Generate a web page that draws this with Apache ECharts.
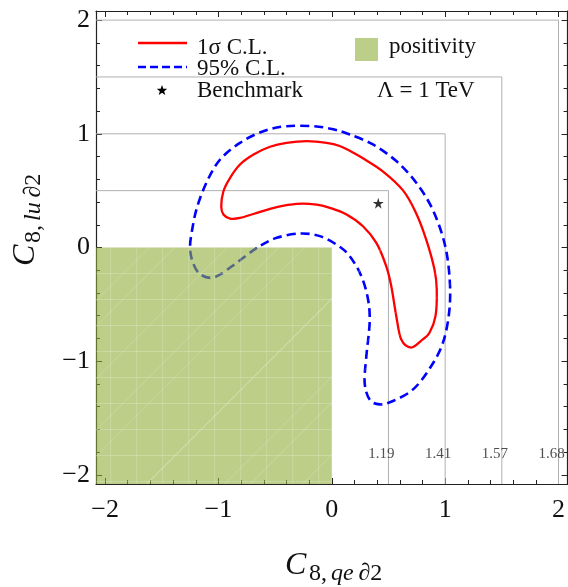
<!DOCTYPE html>
<html>
<head>
<meta charset="utf-8">
<script src="https://cdn.jsdelivr.net/npm/echarts@6/dist/echarts.min.js"></script>
<style>html,body{margin:0;padding:0;background:#fff}#c{width:568px;height:587px}</style>
</head>
<body>
<div id="c"></div>
<script>
// ---- data ----
const majorTicks = [-2, -1, 0, 1, 2];
const minorTicks = [-2, -1.8, -1.6, -1.4, -1.2, -1, -0.8, -0.6, -0.4, -0.2, 0, 0.2, 0.4, 0.6, 0.8, 1, 1.2, 1.4, 1.6, 1.8, 2];
const oneSigma = [[0.70,-0.88],[0.613,-0.81],[0.569,-0.604],[0.525,-0.34],[0.48,-0.164],[0.393,0.04],[0.275,0.187],[0.13,0.29],[-0.018,0.349],[-0.135,0.378],[-0.31,0.384],[-0.486,0.355],[-0.66,0.305],[-0.81,0.26],[-0.897,0.255],[-0.956,0.29],[-0.975,0.36],[-0.956,0.495],[-0.897,0.613],[-0.81,0.73],[-0.69,0.818],[-0.545,0.886],[-0.40,0.92],[-0.22,0.935],[-0.047,0.92],[0.07,0.893],[0.17,0.845],[0.275,0.785],[0.45,0.67],[0.63,0.50],[0.74,0.31],[0.833,0.07],[0.906,-0.193],[0.926,-0.37],[0.915,-0.604],[0.862,-0.75],[0.80,-0.81]];
const cl95 = [[-0.66,-0.003],[-0.84,-0.135],[-0.985,-0.237],[-1.073,-0.267],[-1.176,-0.223],[-1.234,-0.105],[-1.25,0.01],[-1.234,0.143],[-1.19,0.349],[-1.10,0.583],[-0.985,0.774],[-0.81,0.92],[-0.604,1.023],[-0.40,1.067],[-0.164,1.067],[0.012,1.04],[0.158,0.994],[0.363,0.906],[0.569,0.76],[0.745,0.57],[0.89,0.334],[0.994,0.04],[1.038,-0.25],[1.038,-0.545],[0.98,-0.84],[0.86,-1.07],[0.715,-1.25],[0.54,-1.35],[0.422,-1.38],[0.334,-1.337],[0.29,-1.19],[0.305,-0.956],[0.334,-0.66],[0.32,-0.457],[0.26,-0.25],[0.158,-0.076],[0.05,0.02],[-0.106,0.10],[-0.28,0.123],[-0.486,0.085]];
const benchmark = [[0.41, 0.39]];
const levels = [0.5, 1, 1.5, 2];
const levelLabels = ['1.19', '1.41', '1.57', '1.68'];
const levelLabelY = -1.82;
const positivity = [[-2.3, 0, 0, -2.3]]; // x0, y0, x1, y1

// ---- layout ----
const xMin = -2.08, xMax = 2.08, yMin = -2.08, yMax = 2.08;
const FONT = 'Liberation Serif';
const axisCol = '#222';
const minus = v => String(v).replace('-', '\u2212');

function mkX(pos, major, labels) {
  return {
    type: 'value', position: pos, min: xMin, max: xMax, gridIndex: 0,
    axisLine: { show: major, onZero: false, lineStyle: { color: axisCol, width: 1.2 } },
    axisTick: { show: true, inside: true, length: major ? 6 : 4, customValues: major ? majorTicks : minorTicks, lineStyle: { color: axisCol, width: 1 } },
    axisLabel: { show: labels, customValues: majorTicks, formatter: minus, fontFamily: FONT, fontSize: 26, color: '#111', margin: 13 },
    splitLine: { show: false }
  };
}
function mkY(pos, major, labels) {
  return {
    type: 'value', position: pos, min: yMin, max: yMax, gridIndex: 0,
    axisLine: { show: major, onZero: false, lineStyle: { color: axisCol, width: 1.2 } },
    axisTick: { show: true, inside: true, length: major ? 6 : 4, customValues: major ? majorTicks : minorTicks, lineStyle: { color: axisCol, width: 1 } },
    axisLabel: { show: labels, customValues: majorTicks, formatter: minus, fontFamily: FONT, fontSize: 26, color: '#111', margin: 6 },
    splitLine: { show: false }
  };
}

// closed smooth contour drawn through the data points (mapped by the axes)
function contourSeries(points, style, z) {
  return {
    type: 'custom', xAxisIndex: 0, yAxisIndex: 0, z: z, clip: true, silent: true,
    data: points, encode: { x: 0, y: 1 },
    renderItem: function (params, api) {
      if (params.dataIndex !== 0) return null;
      const P = points.map(p => api.coord(p));
      const n = P.length;
      let d = 'M' + P[0][0] + ',' + P[0][1];
      for (let i = 0; i < n; i++) {
        const p0 = P[(i - 1 + n) % n], p1 = P[i], p2 = P[(i + 1) % n], p3 = P[(i + 2) % n];
        const c1 = [p1[0] + (p2[0] - p0[0]) / 6, p1[1] + (p2[1] - p0[1]) / 6];
        const c2 = [p2[0] - (p3[0] - p1[0]) / 6, p2[1] - (p3[1] - p1[1]) / 6];
        d += 'C' + c1[0] + ',' + c1[1] + ' ' + c2[0] + ',' + c2[1] + ' ' + p2[0] + ',' + p2[1];
      }
      d += 'Z';
      return { type: 'path', shape: { pathData: d }, style: Object.assign({ fill: 'none' }, style) };
    }
  };
}

const series = [];
levels.forEach((L, i) => {
  series.push({
    type: 'line', xAxisIndex: 0, yAxisIndex: 0, symbol: 'none', silent: true, z: 1,
    data: [[xMin, L], [L, L], [L, yMin]],
    lineStyle: { color: '#b0b0b0', width: 1 }
  });
});
series.push({
  type: 'scatter', xAxisIndex: 0, yAxisIndex: 0, symbolSize: 0, z: 4, silent: true,
  data: levels.map((L, i) => ({ value: [L, levelLabelY], label: { formatter: levelLabels[i] } })),
  label: { show: true, position: 'inside', offset: [-7, 0], fontFamily: FONT, fontSize: 15, color: '#222' }
});
series.push(contourSeries(cl95, { stroke: '#0000ff', lineWidth: 2.6, lineDash: [9, 5] }, 2));
series.push(contourSeries(oneSigma, { stroke: '#ff0000', lineWidth: 2.3, lineJoin: 'round' }, 3));
series.push({
  type: 'custom', xAxisIndex: 0, yAxisIndex: 0, z: 5, clip: true, silent: true,
  data: positivity,
  renderItem: function (params, api) {
    const a = api.coord([api.value(0), api.value(1)]);
    const b = api.coord([api.value(2), api.value(3)]);
    const x0 = Math.min(a[0], b[0]), y0 = Math.min(a[1], b[1]);
    const w = Math.abs(b[0] - a[0]), h = Math.abs(b[1] - a[1]);
    const children = [{ type: 'rect', shape: { x: x0, y: y0, width: w, height: h }, style: { fill: 'rgba(143,174,55,0.6)' } }];
    // faint mesh texture
    const mesh = { stroke: 'rgba(255,255,255,0.22)', lineWidth: 1, fill: null };
    const step = 26;
    const x1 = x0 + w, y1 = y0 + h;
    for (let x = x1 - step * 0.5; x > x0; x -= step) children.push({ type: 'line', shape: { x1: x, y1: y0, x2: x, y2: y1 }, style: mesh });
    for (let y = y0 + step; y < y1; y += step) children.push({ type: 'line', shape: { x1: x0, y1: y, x2: x1, y2: y }, style: mesh });
    for (let k = -h; k < w; k += step * 3) children.push({ type: 'line', shape: { x1: x0 + k, y1: y1, x2: x0 + k + h, y2: y0 }, style: mesh });
    for (let k = 0; k < w + h; k += step * 4) children.push({ type: 'line', shape: { x1: x0 + k, y1: y0, x2: x0 + k - h, y2: y1 }, style: mesh });
    return { type: 'group', children: children };
  }
});
series.push({
  type: 'scatter', xAxisIndex: 0, yAxisIndex: 0, z: 6,
  symbol: 'path://M50,0 L61,35 L98,35 L68,57 L79,91 L50,70 L21,91 L32,57 L2,35 L39,35 Z',
  symbolSize: 11, itemStyle: { color: '#000' }, data: benchmark
});

function starPts(cx, cy, r) {
  const pts = [];
  for (let k = 0; k < 10; k++) {
    const rr = k % 2 === 0 ? r : r * 0.42;
    const a = -Math.PI / 2 + k * Math.PI / 5;
    pts.push([cx + rr * Math.cos(a), cy + rr * Math.sin(a)]);
  }
  return pts;
}

const txt = (x, y, text, size, extra) => ({
  type: 'text', x: x, y: y, silent: true,
  style: Object.assign({ text: text, fontFamily: FONT, fontSize: size, fill: '#111', align: 'left', verticalAlign: 'middle' }, extra || {})
});

const graphic = [
  { type: 'line', shape: { x1: 138, y1: 43, x2: 187, y2: 43 }, style: { stroke: '#ff0000', lineWidth: 2.3 } },
  { type: 'line', shape: { x1: 138, y1: 67, x2: 187, y2: 67 }, style: { stroke: '#0000ff', lineWidth: 2.6, lineDash: [8, 4] } },
  { type: 'polygon', shape: { points: starPts(162, 90.5, 5.5) }, style: { fill: '#000' } },
  { type: 'rect', shape: { x: 355, y: 38, width: 23, height: 23 }, style: { fill: '#bccf88' } },
  txt(197, 47.5, '1\u03c3 C.L.', 23),
  txt(197, 68.5, '95% C.L.', 23),
  txt(197, 90.5, 'Benchmark', 23),
  txt(389, 47, 'positivity', 23),
  txt(377, 90.5, '\u039b = 1 TeV', 23),
  // x title
  txt(285, 566, 'C', 32, { fontStyle: 'italic' }),
  { type: 'text', x: 309, y: 574, silent: true,
    style: { text: '{n|8,}{i|qe}{n|\u2009\u22022}', fontFamily: FONT, fontSize: 24, fill: '#111', align: 'left', verticalAlign: 'middle',
      rich: { n: { fontFamily: FONT, fontSize: 24 }, i: { fontFamily: FONT, fontSize: 24, fontStyle: 'italic', padding: [0, 0, 0, 4] } } } },
  // y title
  Object.assign(txt(26, 266, 'C', 32, { fontStyle: 'italic' }), { rotation: Math.PI / 2 }),
  { type: 'text', x: 34, y: 243, rotation: Math.PI / 2, silent: true,
    style: { text: '{n|8,}{i|lu}{n|\u2009\u22022}', fontFamily: FONT, fontSize: 24, fill: '#111', align: 'left', verticalAlign: 'middle',
      rich: { n: { fontFamily: FONT, fontSize: 24 }, i: { fontFamily: FONT, fontSize: 24, fontStyle: 'italic', padding: [0, 0, 0, 4] } } } }
];

const chart = echarts.init(document.getElementById('c'), null, { renderer: 'canvas' });
chart.setOption({
  animation: false,
  backgroundColor: '#fff',
  grid: { left: 96, right: -1, top: 11, bottom: 103, containLabel: false },
  xAxis: [mkX('bottom', true, true), mkX('bottom', false, false), mkX('top', true, false), mkX('top', false, false)],
  yAxis: [mkY('left', true, true), mkY('left', false, false), mkY('right', true, false), mkY('right', false, false)],
  series: series,
  graphic: graphic
});
</script>
</body>
</html>
